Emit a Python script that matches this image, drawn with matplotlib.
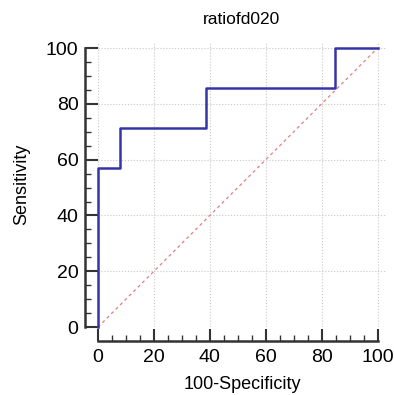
import numpy as np
import matplotlib
matplotlib.use('Agg')
import matplotlib.pyplot as plt
from matplotlib.ticker import MultipleLocator

plt.rcParams['font.family'] = ['Liberation Sans', 'DejaVu Sans']

# ROC points (100-Specificity, Sensitivity)
fpr = [0, 0, 7.7, 7.7, 38.5, 38.5, 84.6, 84.6, 100]
tpr = [0, 57.1, 57.1, 71.4, 71.4, 85.7, 85.7, 100, 100]
ticks = [0, 20, 40, 60, 80, 100]

fig = plt.figure(figsize=(3.94, 3.95), dpi=100)
ax = fig.add_axes([0.2487, 0.172, 0.731, 0.7205])

ax.plot([0, 100], [0, 100], color='#e08080', lw=0.9, ls=(0, (2.5, 2.5)))
ax.plot(fpr, tpr, color='#3535a8', lw=1.8, clip_on=False, zorder=3)

ax.set_xlim(0, 103)
ax.set_ylim(0, 102)
ax.set_xticks(ticks)
ax.set_yticks(ticks)
ax.xaxis.set_minor_locator(MultipleLocator(5))
ax.yaxis.set_minor_locator(MultipleLocator(5))
ax.grid(True, which='major', color='#c8c8c8', ls=':', lw=0.8)

for s in ['top', 'right']:
    ax.spines[s].set_visible(False)
ax.spines['left'].set_position(('outward', 9))
ax.spines['bottom'].set_position(('outward', 10))
ax.spines['left'].set_bounds(0, 100)
ax.spines['bottom'].set_bounds(0, 100)
for s in ['left', 'bottom']:
    ax.spines[s].set_linewidth(1.8)
    ax.spines[s].set_color('#333333')

ax.tick_params(which='major', direction='in', length=9, width=1.5, color='#333333', labelsize=14)
ax.tick_params(axis='y', which='major', pad=5)
ax.tick_params(axis='x', which='major', pad=6)
ax.tick_params(which='minor', direction='in', length=4.5, width=1, color='#333333')

ax.set_title('ratiofd020', fontsize=12.5, pad=13)
ax.set_xlabel('100-Specificity', fontsize=13, labelpad=7)
ax.set_ylabel('Sensitivity', fontsize=13, labelpad=11)

plt.savefig('out.png', dpi=100)
